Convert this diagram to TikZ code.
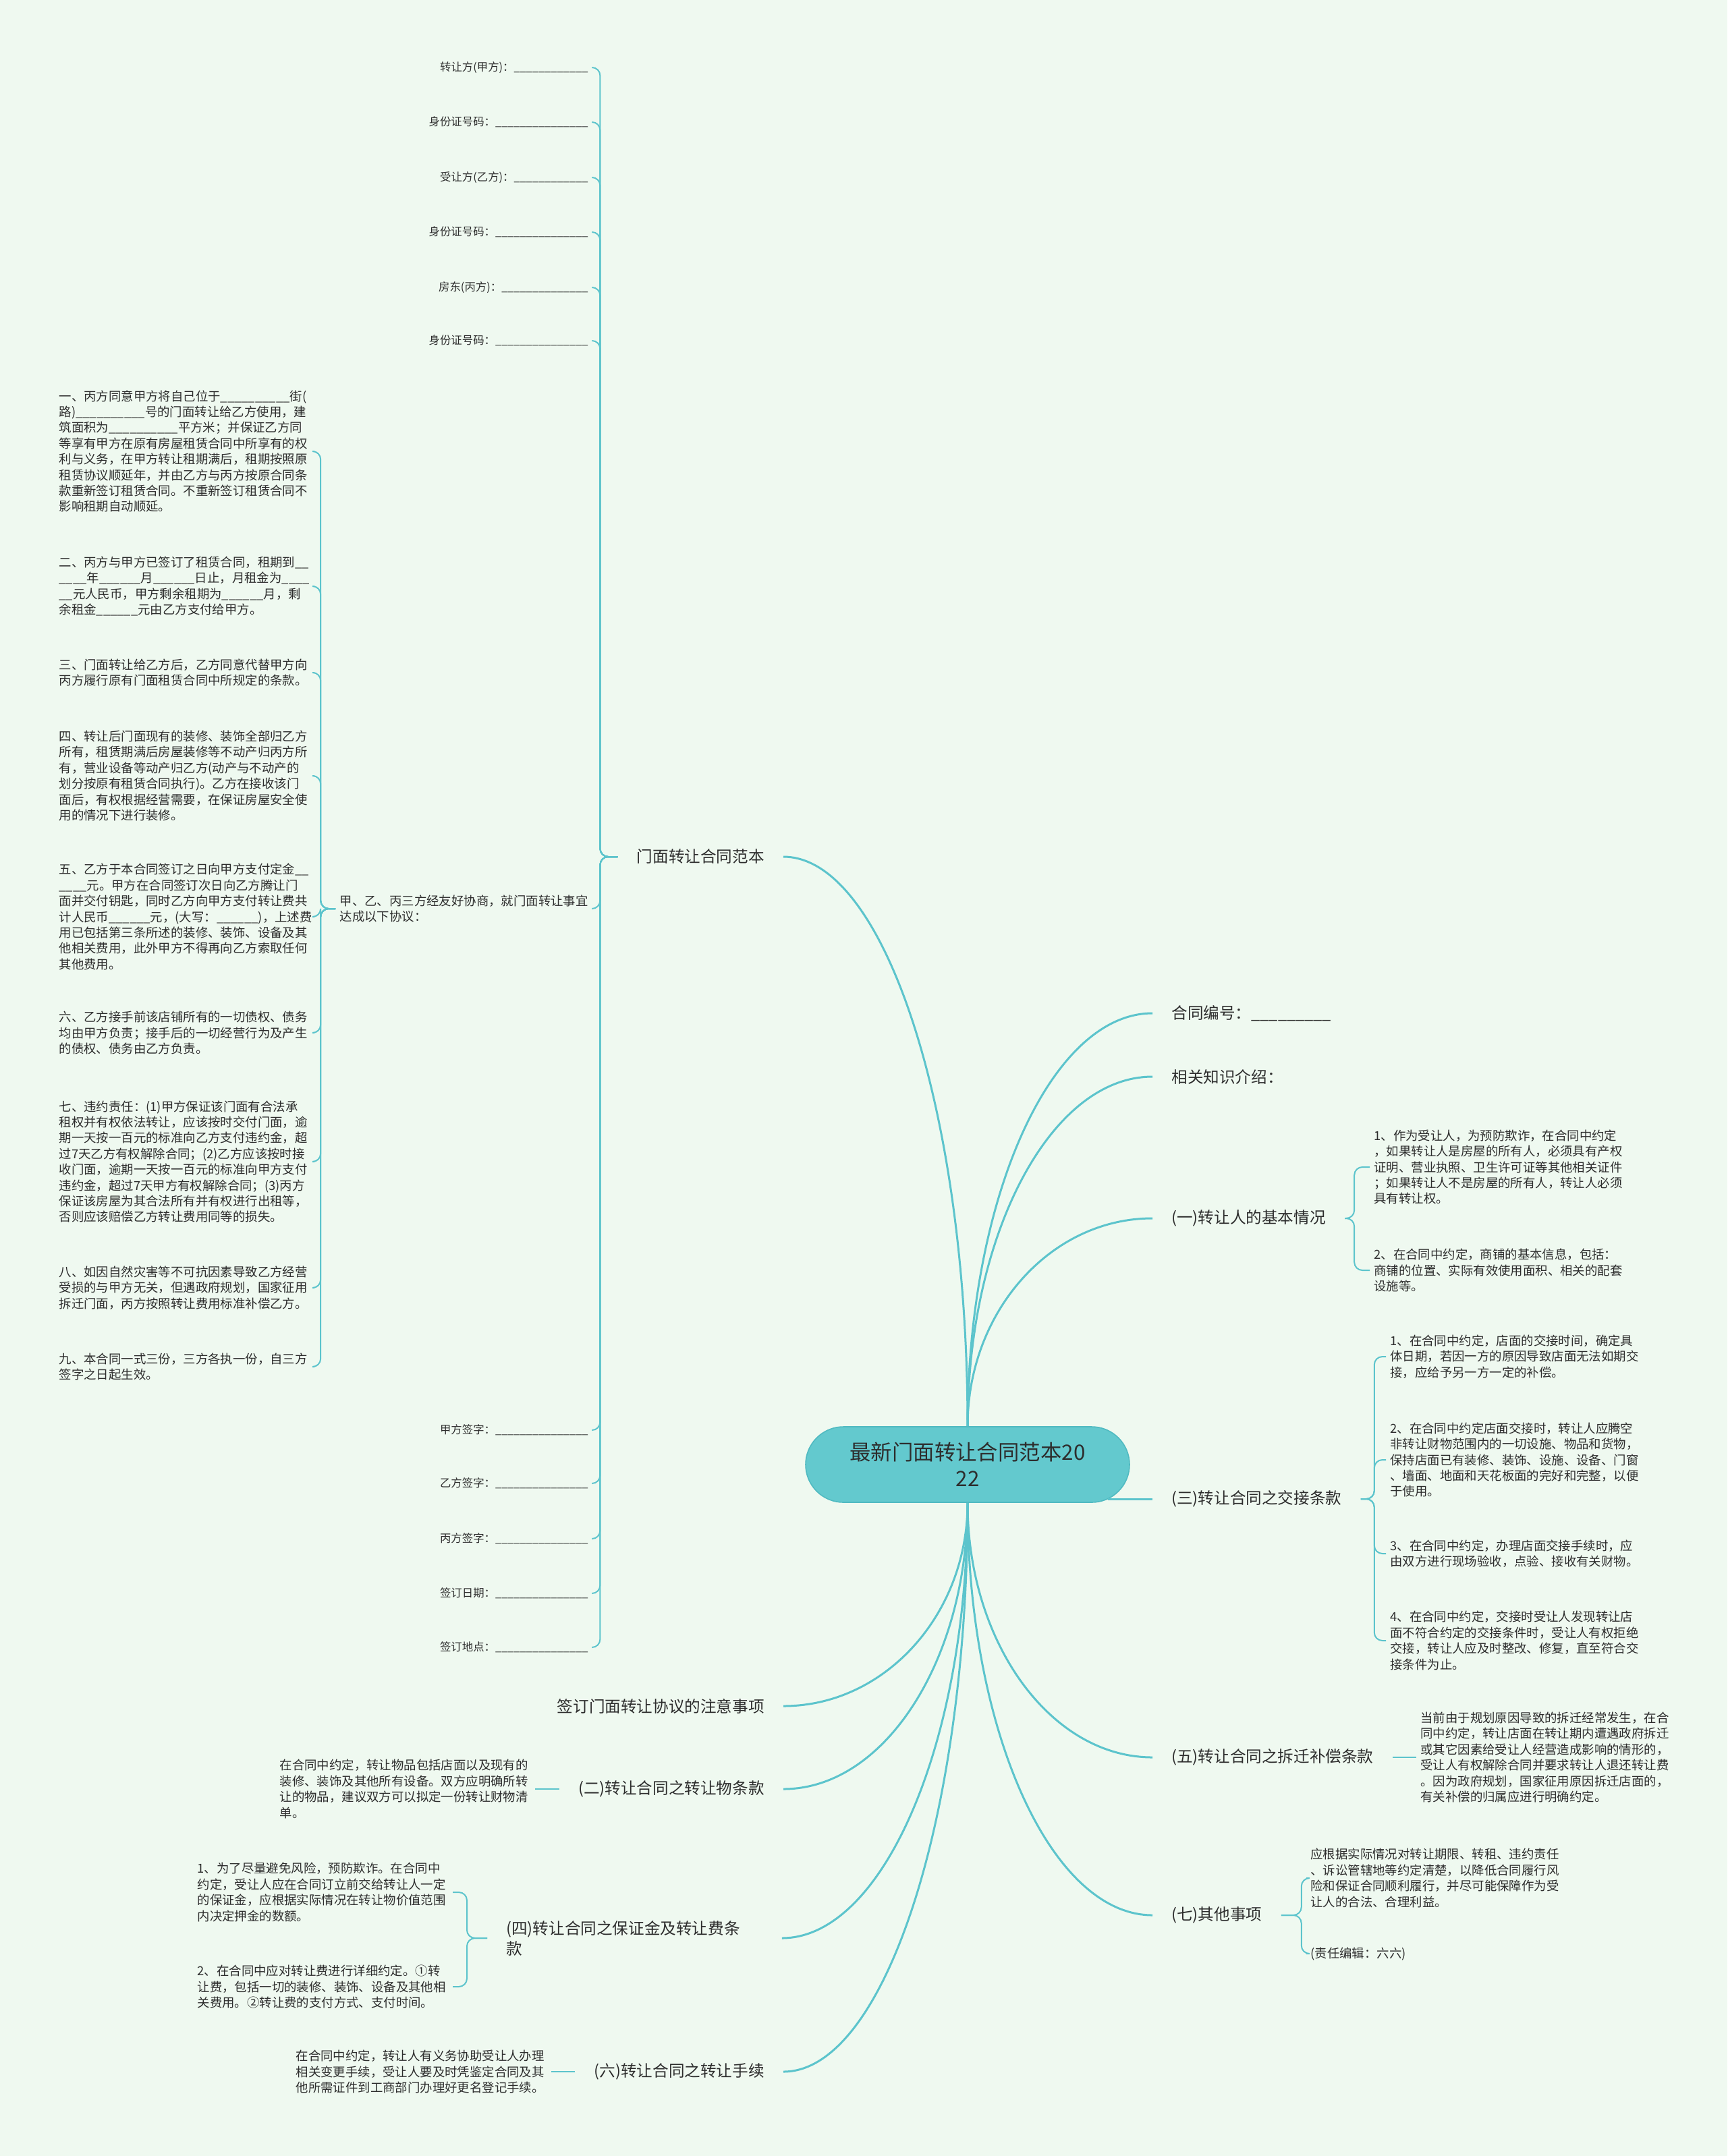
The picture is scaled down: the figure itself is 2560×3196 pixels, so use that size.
\documentclass[tikz,border=0pt]{standalone}
\usepackage{fontspec}
\setmainfont{Noto Sans CJK SC}

\definecolor{bgmint}{RGB}{239,249,240}
\definecolor{branch}{RGB}{92,196,204}
\definecolor{rootfill}{RGB}{99,201,206}
\definecolor{rootline}{RGB}{80,186,193}
\definecolor{ink}{RGB}{45,45,45}

\newcommand{\blank}[1]{\foreach \k in {1,...,#1}{\_}}

\tikzset{
  root/.style={fill=rootfill, draw=rootline, line width=0.8pt, rounded corners=28pt,
    minimum width=240pt, minimum height=56pt, align=center, text=ink,
    font=\fontsize{15.7}{19.5}\selectfont},
  topic/.style={font=\fontsize{11.8}{15}\selectfont, text=ink, inner xsep=14pt, inner ysep=3pt, align=left},
  item/.style={font=\fontsize{8.2}{10}\selectfont, text=ink, inner xsep=3pt, inner ysep=2pt},
  leaf/.style={font=\fontsize{9.2}{11.7}\selectfont, text=ink, align=left, text width=186pt,
    inner xsep=3pt, inner ysep=2pt},
  trunk/.style={draw=branch, line width=1.5pt},
  twig/.style={draw=branch, line width=1pt, rounded corners=6pt}
}

\begin{document}
\begin{tikzpicture}[x=0.5pt,y=0.5pt]
\useasboundingbox (0,0) rectangle (2560,-3196);
\fill [bgmint] (0,0) rectangle (2560,-3196);

% centre
\node [root] (root) at (1434,-2171) {最新门面转让合同范本20\\22};

% main topics, left
\node [topic,anchor=east] (mmfb) at (1161,-1270) {门面转让合同范本};
\node [topic,anchor=east] (zy) at (1161,-2529) {签订门面转让协议的注意事项};
\node [topic,anchor=east] (s2) at (1161,-2652) {(二)转让合同之转让物条款};
\node [topic,anchor=west,text width=190pt] (s4) at (722,-2873) {(四)转让合同之保证金及转让费条\\款};
\node [topic,anchor=east] (s6) at (1161,-3071) {(六)转让合同之转让手续};

% main topics, right
\node [topic,anchor=west] (hb) at (1708,-1502) {合同编号：\blank{9}};
\node [topic,anchor=west] (xg) at (1708,-1596) {相关知识介绍：};
\node [topic,anchor=west] (s1) at (1708,-1806) {(一)转让人的基本情况};
\node [topic,anchor=west] (s3) at (1708,-2222) {(三)转让合同之交接条款};
\node [topic,anchor=west] (s5) at (1708,-2605) {(五)转让合同之拆迁补偿条款};
\node [topic,anchor=west] (s7) at (1708,-2839) {(七)其他事项};

\draw [trunk] (root.north) .. controls +(0,465) and +(150,0) .. (mmfb.east);
\draw [trunk] (root.north) .. controls +(0,337) and +(-151,0) .. (hb.west);
\draw [trunk] (root.north) .. controls +(0,285) and +(-151,0) .. (xg.west);
\draw [trunk] (root.north) .. controls +(0,170) and +(-151,0) .. (s1.west);
\draw [trunk] (s3.west) -- ++(-66,0);
\draw [trunk] (root.south) .. controls +(0,-207) and +(-151,0) .. (s5.west);
\draw [trunk] (root.south) .. controls +(0,-336) and +(-151,0) .. (s7.west);
\draw [trunk] (root.south) .. controls +(0,-166) and +(150,0) .. (zy.east);
\draw [trunk] (root.south) .. controls +(0,-233) and +(150,0) .. (s2.east);
\draw [trunk] (root.south) .. controls +(0,-355) and +(150,0) .. (s4.east);
\draw [trunk] (root.south) .. controls +(0,-464) and +(150,0) .. (s6.east);

% parties and signatures
\node [item,anchor=east] (jf) at (878,-100) {转让方(甲方)：\blank{12}};
\node [item,anchor=east] (jfid) at (878,-181) {身份证号码：\blank{15}};
\node [item,anchor=east] (yf) at (878,-263) {受让方(乙方)：\blank{12}};
\node [item,anchor=east] (yfid) at (878,-344) {身份证号码：\blank{15}};
\node [item,anchor=east] (bf) at (878,-426) {房东(丙方)：\blank{14}};
\node [item,anchor=east] (bfid) at (878,-505) {身份证号码：\blank{15}};
\node [leaf,text width=,anchor=east] (xy) at (878,-1347) {甲、乙、丙三方经友好协商，就门面转让事宜\\达成以下协议：};
\node [item,anchor=east] (qz1) at (878,-2120) {甲方签字：\blank{15}};
\node [item,anchor=east] (qz2) at (878,-2199) {乙方签字：\blank{15}};
\node [item,anchor=east] (qz3) at (878,-2281) {丙方签字：\blank{15}};
\node [item,anchor=east] (rq) at (878,-2362) {签订日期：\blank{15}};
\node [item,anchor=east] (dd) at (878,-2442) {签订地点：\blank{15}};

\draw [twig] (mmfb.west) -- ++(-26,0) |- (jf.east);
\draw [twig] (mmfb.west) -- ++(-26,0) |- (jfid.east);
\draw [twig] (mmfb.west) -- ++(-26,0) |- (yf.east);
\draw [twig] (mmfb.west) -- ++(-26,0) |- (yfid.east);
\draw [twig] (mmfb.west) -- ++(-26,0) |- (bf.east);
\draw [twig] (mmfb.west) -- ++(-26,0) |- (bfid.east);
\draw [twig] (mmfb.west) -- ++(-26,0) |- (xy.east);
\draw [twig] (mmfb.west) -- ++(-26,0) |- (qz1.east);
\draw [twig] (mmfb.west) -- ++(-26,0) |- (qz2.east);
\draw [twig] (mmfb.west) -- ++(-26,0) |- (qz3.east);
\draw [twig] (mmfb.west) -- ++(-26,0) |- (rq.east);
\draw [twig] (mmfb.west) -- ++(-26,0) |- (dd.east);

% clauses
\node [leaf,anchor=east] (t1) at (466,-669) {一、丙方同意甲方将自己位于\blank{10}街(\\路)\blank{10}号的门面转让给乙方使用，建\\筑面积为\blank{10}平方米；并保证乙方同\\等享有甲方在原有房屋租赁合同中所享有的权\\利与义务，在甲方转让租期满后，租期按照原\\租赁协议顺延年，并由乙方与丙方按原合同条\\款重新签订租赁合同。不重新签订租赁合同不\\影响租期自动顺延。};
\node [leaf,anchor=east] (t2) at (466,-869) {二、丙方与甲方已签订了租赁合同，租期到\blank{2}\\\blank{4}年\blank{6}月\blank{6}日止，月租金为\blank{4}\\\blank{2}元人民币，甲方剩余租期为\blank{6}月，剩\\余租金\blank{6}元由乙方支付给甲方。};
\node [leaf,anchor=east] (t3) at (466,-997) {三、门面转让给乙方后，乙方同意代替甲方向\\丙方履行原有门面租赁合同中所规定的条款。};
\node [leaf,anchor=east] (t4) at (466,-1150) {四、转让后门面现有的装修、装饰全部归乙方\\所有，租赁期满后房屋装修等不动产归丙方所\\有，营业设备等动产归乙方(动产与不动产的\\划分按原有租赁合同执行)。乙方在接收该门\\面后，有权根据经营需要，在保证房屋安全使\\用的情况下进行装修。};
\node [leaf,anchor=east] (t5) at (466,-1359) {五、乙方于本合同签订之日向甲方支付定金\blank{2}\\\blank{4}元。甲方在合同签订次日向乙方腾让门\\面并交付钥匙，同时乙方向甲方支付转让费共\\计人民币\blank{6}元，(大写：\blank{6})，上述费\\用已包括第三条所述的装修、装饰、设备及其\\他相关费用，此外甲方不得再向乙方索取任何\\其他费用。};
\node [leaf,anchor=east] (t6) at (466,-1531) {六、乙方接手前该店铺所有的一切债权、债务\\均由甲方负责；接手后的一切经营行为及产生\\的债权、债务由乙方负责。};
\node [leaf,anchor=east] (t7) at (466,-1722) {七、违约责任：(1)甲方保证该门面有合法承\\租权并有权依法转让，应该按时交付门面，逾\\期一天按一百元的标准向乙方支付违约金，超\\过7天乙方有权解除合同；(2)乙方应该按时接\\收门面，逾期一天按一百元的标准向甲方支付\\违约金，超过7天甲方有权解除合同；(3)丙方\\保证该房屋为其合法所有并有权进行出租等，\\否则应该赔偿乙方转让费用同等的损失。};
\node [leaf,anchor=east] (t8) at (466,-1909) {八、如因自然灾害等不可抗因素导致乙方经营\\受损的与甲方无关，但遇政府规划，国家征用\\拆迁门面，丙方按照转让费用标准补偿乙方。};
\node [leaf,anchor=east] (t9) at (466,-2026) {九、本合同一式三份，三方各执一份，自三方\\签字之日起生效。};

\draw [twig] (xy.west) -- ++(-22,0) |- (t1.east);
\draw [twig] (xy.west) -- ++(-22,0) |- (t2.east);
\draw [twig] (xy.west) -- ++(-22,0) |- (t3.east);
\draw [twig] (xy.west) -- ++(-22,0) |- (t4.east);
\draw [twig] (xy.west) -- ++(-22,0) |- (t5.east);
\draw [twig] (xy.west) -- ++(-22,0) |- (t6.east);
\draw [twig] (xy.west) -- ++(-22,0) |- (t7.east);
\draw [twig] (xy.west) -- ++(-22,0) |- (t8.east);
\draw [twig] (xy.west) -- ++(-22,0) |- (t9.east);

% right side details
\node [leaf,anchor=west] (a1) at (2030,-1730) {1、作为受让人，为预防欺诈，在合同中约定\\，如果转让人是房屋的所有人，必须具有产权\\证明、营业执照、卫生许可证等其他相关证件\\；如果转让人不是房屋的所有人，转让人必须\\具有转让权。};
\node [leaf,anchor=west] (a2) at (2030,-1883) {2、在合同中约定，商铺的基本信息，包括：\\商铺的位置、实际有效使用面积、相关的配套\\设施等。};
\draw [twig] (s1.east) -- ++(14,0) |- (a1.west);
\draw [twig] (s1.east) -- ++(14,0) |- (a2.west);

\node [leaf,anchor=west] (c1) at (2054,-2011) {1、在合同中约定，店面的交接时间，确定具\\体日期，若因一方的原因导致店面无法如期交\\接，应给予另一方一定的补偿。};
\node [leaf,anchor=west] (c2) at (2054,-2164) {2、在合同中约定店面交接时，转让人应腾空\\非转让财物范围内的一切设施、物品和货物，\\保持店面已有装修、装饰、设施、设备、门窗\\、墙面、地面和天花板面的完好和完整，以便\\于使用。};
\node [leaf,anchor=west] (c3) at (2054,-2303) {3、在合同中约定，办理店面交接手续时，应\\由双方进行现场验收，点验、接收有关财物。};
\node [leaf,anchor=west] (c4) at (2054,-2432) {4、在合同中约定，交接时受让人发现转让店\\面不符合约定的交接条件时，受让人有权拒绝\\交接，转让人应及时整改、修复，直至符合交\\接条件为止。};
\draw [twig] (s3.east) -- ++(20,0) |- (c1.west);
\draw [twig] (s3.east) -- ++(20,0) |- (c2.west);
\draw [twig] (s3.east) -- ++(20,0) |- (c3.west);
\draw [twig] (s3.east) -- ++(20,0) |- (c4.west);

\node [leaf,anchor=west] (e1) at (2099,-2605) {当前由于规划原因导致的拆迁经常发生，在合\\同中约定，转让店面在转让期内遭遇政府拆迁\\或其它因素给受让人经营造成影响的情形的，\\受让人有权解除合同并要求转让人退还转让费\\。因为政府规划，国家征用原因拆迁店面的，\\有关补偿的归属应进行明确约定。};
\draw [twig] (s5.east) -- (e1.west);

\node [leaf,anchor=west] (g1) at (1936,-2784) {应根据实际情况对转让期限、转租、违约责任\\、诉讼管辖地等约定清楚，以降低合同履行风\\险和保证合同顺利履行，并尽可能保障作为受\\让人的合法、合理利益。};
\node [leaf,anchor=west] (g2) at (1936,-2896) {(责任编辑：六六)};
\draw [twig] (s7.east) -- ++(30,0) |- (g1.west);
\draw [twig] (s7.east) -- ++(30,0) |- (g2.west);

% left bottom details
\node [leaf,anchor=east] (b1) at (793,-2652) {在合同中约定，转让物品包括店面以及现有的\\装修、装饰及其他所有设备。双方应明确所转\\让的物品，建议双方可以拟定一份转让财物清\\单。};
\draw [twig] (s2.west) -- (b1.east);

\node [leaf,anchor=east] (d1) at (671,-2805) {1、为了尽量避免风险，预防欺诈。在合同中\\约定，受让人应在合同订立前交给转让人一定\\的保证金，应根据实际情况在转让物价值范围\\内决定押金的数额。};
\node [leaf,anchor=east] (d2) at (671,-2945) {2、在合同中应对转让费进行详细约定。①转\\让费，包括一切的装修、装饰、设备及其他相\\关费用。②转让费的支付方式、支付时间。};
\draw [twig] (s4.west) -- ++(-30,0) |- (d1.east);
\draw [twig] (s4.west) -- ++(-30,0) |- (d2.east);

\node [leaf,anchor=east] (f1) at (817,-3071) {在合同中约定，转让人有义务协助受让人办理\\相关变更手续，受让人要及时凭鉴定合同及其\\他所需证件到工商部门办理好更名登记手续。};
\draw [twig] (s6.west) -- (f1.east);
\end{tikzpicture}
\end{document}
